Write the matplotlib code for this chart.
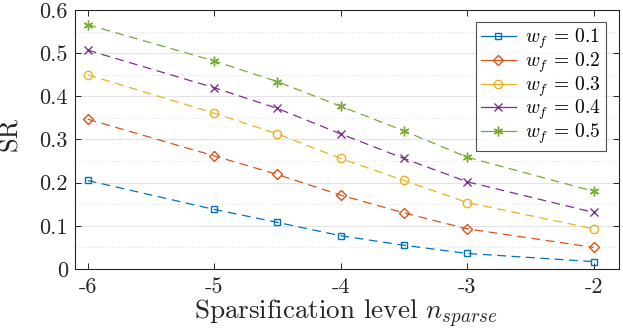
import matplotlib
matplotlib.use("Agg")
import matplotlib.pyplot as plt
from matplotlib.lines import Line2D
from matplotlib.ticker import MultipleLocator, FuncFormatter

plt.rcParams['font.family'] = 'cmr10'
plt.rcParams['mathtext.fontset'] = 'cm'
plt.rcParams['axes.unicode_minus'] = False
plt.rcParams['axes.formatter.use_mathtext'] = True

x = [-6, -5, -4.5, -4, -3.5, -3, -2]
labels = [r'$w_f\,=\,0.1$', r'$w_f\,=\,0.2$', r'$w_f\,=\,0.3$', r'$w_f\,=\,0.4$', r'$w_f\,=\,0.5$']
sr_01 = [0.205, 0.138, 0.108, 0.077, 0.055, 0.036, 0.017]
sr_02 = [0.347, 0.262, 0.219, 0.171, 0.130, 0.093, 0.050]
sr_03 = [0.450, 0.361, 0.313, 0.256, 0.205, 0.154, 0.093]
sr_04 = [0.507, 0.420, 0.372, 0.313, 0.256, 0.202, 0.131]
sr_05 = [0.566, 0.482, 0.434, 0.377, 0.320, 0.259, 0.180]
series = [sr_01, sr_02, sr_03, sr_04, sr_05]
colors = ['#0072BD', '#D95319', '#EDB120', '#7E2F8E', '#77AC30']
markers = ['s', 'D', 'o', 'x', (6, 2, 0)]
msizes = [4.3, 5.5, 6, 6, 7]
xticks = [-6, -5, -4, -3, -2]

fig = plt.figure(figsize=(6.23, 3.32), dpi=100)
ax = fig.add_axes([0.1204, 0.1898, 0.8732, 0.7801])

handles = []
for y, c, m, ms, lab in zip(series, colors, markers, msizes, labels):
    ax.plot(x, y, color=c, marker=m, markersize=ms, markerfacecolor='none',
            markeredgewidth=1.0, linewidth=0.9, dashes=(7, 4.5), zorder=3)
    handles.append(Line2D([0], [0], color=c, marker=m, markersize=ms,
                          markerfacecolor='none', markeredgewidth=1.0,
                          linewidth=0.9, label=lab))

ax.set_xlim(-6.1, -1.8)
ax.set_ylim(0, 0.6)
ax.set_xticks(xticks)
ax.xaxis.set_major_formatter(FuncFormatter(lambda v, p: '%d' % v))
ax.yaxis.set_major_locator(MultipleLocator(0.1))
ax.yaxis.set_minor_locator(MultipleLocator(0.05))
ax.yaxis.set_major_formatter(FuncFormatter(lambda v, p: '0' if abs(v) < 1e-9 else '%.1f' % v))

ax.grid(axis='y', which='major', color='#e3e3e3', linewidth=0.8, linestyle='-', zorder=0)
ax.grid(axis='y', which='minor', color='#d0d0d0', linewidth=0.6, linestyle=(0, (1, 3)), zorder=0)
ax.set_axisbelow(True)

ax.tick_params(axis='both', which='major', direction='in', length=4, width=0.7,
               top=True, right=True, labelsize=16, colors='#262626')
ax.tick_params(axis='y', which='major', pad=5)
ax.tick_params(axis='x', which='major', pad=6)
ax.tick_params(axis='y', which='minor', left=False, right=False)
for s in ax.spines.values():
    s.set_color('#262626')
    s.set_linewidth(0.8)

ax.set_xlabel(r'Sparsification level $n_{sparse}$', fontsize=19.5, color='#262626')
ax.xaxis.set_label_coords(0.499, -0.11)
ax.set_ylabel('SR', fontsize=19, color='#262626')
ax.yaxis.set_label_coords(-0.097, 0.52)

leg = ax.legend(handles=handles, loc='upper right', fontsize=14, frameon=True,
                fancybox=False, edgecolor='#262626', handlelength=1.8,
                borderpad=0.25, labelspacing=-0.04, handletextpad=0.5,
                borderaxespad=0, bbox_to_anchor=(0.976, 0.954))
leg.get_frame().set_linewidth(0.8)

fig.savefig('out.png', dpi=100)
